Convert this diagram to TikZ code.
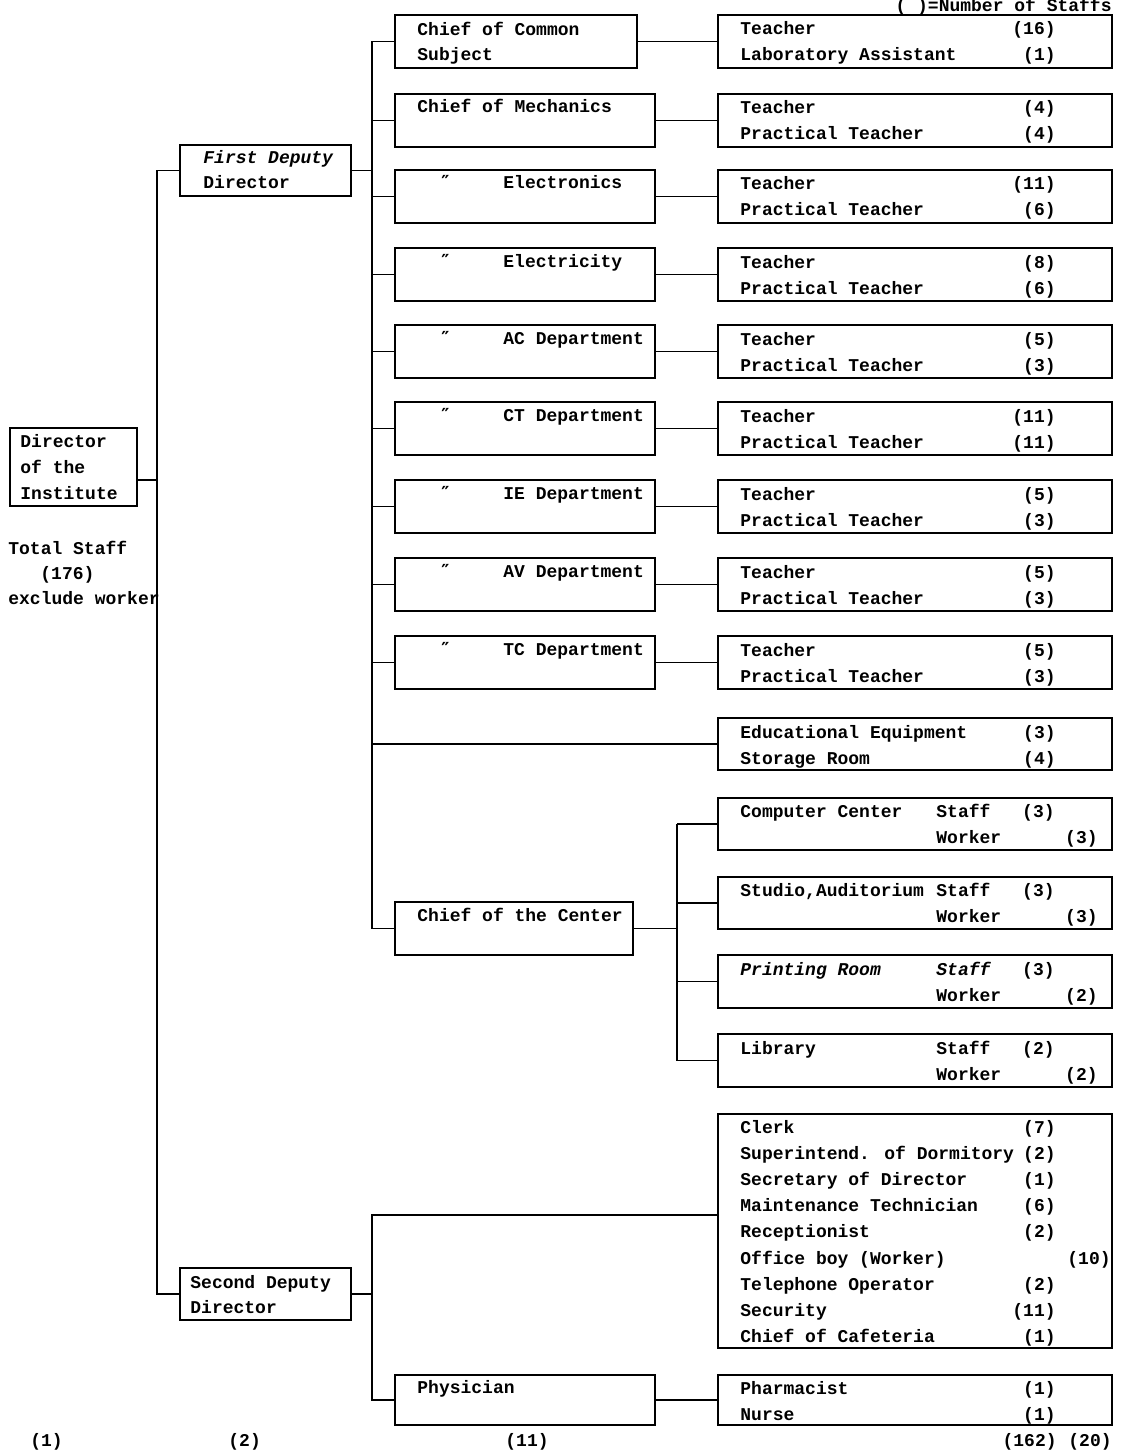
\documentclass[tikz,border=0pt]{standalone}
\usepackage{fontspec}
\setmainfont{Liberation Mono}
\newfontfamily\dvfont{DejaVu Sans}
\newcommand\fs{\fontsize{9}{11}\selectfont\bfseries}
\newcommand\bx[5]{\node[box, minimum width={(#4-(#2))*0.5pt}, minimum height={(#5-(#3))*0.5pt}] (#1) at (#2,#3) {};}
\newcommand\dept[5]{%
 \bx{m#1}{395}{#2}{655}{#2+53}
 \bx{r#1}{718}{#2}{1112}{#2+53}
 \draw[ln] (m#1.east) -- (r#1.west);
 \draw[ln] (fv |- m#1.west) -- (m#1.west);
 \node[tl] (ra#1) at (740,#2+20) {Teacher};
 \node[tl] (rb#1) at (740,#2+46) {Practical Teacher};
 \node[tr] (na#1) at (1056,#2+20) {(#4)};
 \node[tr] (nb#1) at (1056,#2+46) {(#5)};
 \ifx\relax#3\relax
 \else
 \node[tl] (dt#1) at (441,#2+19) {\dvfont\char"2033};
 \node[tl] (mt#1) at (503,#2+19) {#3};
 \fi
}
\begin{document}
\begin{tikzpicture}[x=0.5pt,y=-0.5pt,
  box/.style={draw, line width=0.9pt, inner sep=0pt, outer sep=0pt, anchor=north west},
  ln/.style={line width=0.9pt},
  tl/.style={anchor=base west, inner sep=0pt, font=\fs},
  tr/.style={anchor=base east, inner sep=0pt, font=\fs}]
\useasboundingbox (0,0) rectangle (1125,1455);
\fill[white] (0,0) rectangle (1125,1455);

% legend
\node[tr] (legend) at (1112,12) {( )=Number of Staffs};

% Director
\bx{dir}{10}{428}{137}{506}
\node[tl] (dirt1) at (20,447) {Director};
\node[tl] (dirt2) at (20,473) {of the};
\node[tl] (dirt3) at (20,499) {Institute};
\node[tl] (tot1) at (8,554) {Total Staff};
\node[tl] (tot2) at (40,579) {(176)};
\node[tl] (tot3) at (8,604) {exclude worker};
\coordinate (dj) at (157,480);

% Deputies
\bx{fd}{180}{145}{351}{196}
\node[tl] (fdt1) at (203,164) {\itshape First Deputy};
\node[tl] (fdt2) at (203,189) {Director};
\bx{sd}{180}{1268}{351}{1320}
\node[tl] (sdt1) at (190,1288) {Second Deputy};
\node[tl] (sdt2) at (190,1313) {Director};
\draw[ln] (dir.east |- dj) -- (dj);
\draw[ln] (fd.west) -- (fd.west -| dj) -- (sd.west -| dj) -- (sd.west);

% First deputy branch
\coordinate (fv) at (372,0);
\bx{mcom}{395}{15}{637}{68}
\bx{rcom}{718}{15}{1112}{68}
\node[tl] (mcomt1) at (417,36) {Chief of Common};
\node[tl] (mcomt2) at (417,61) {Subject};
\node[tl] (racom) at (740,35) {Teacher};
\node[tl] (rbcom) at (740,61) {Laboratory Assistant};
\node[tr] (nacom) at (1056,35) {(16)};
\node[tr] (nbcom) at (1056,61) {(1)};
\draw[ln] (mcom.east) -- (rcom.west);
\draw[ln] (fv |- mcom.west) -- (mcom.west);

\dept{mech}{94}{}{4}{4}
\node[tl] (mtmech) at (417,113) {Chief of Mechanics};
\dept{elec}{170}{Electronics}{11}{6}
\dept{elty}{248}{Electricity}{8}{6}
\dept{ac}{325}{AC Department}{5}{3}
\dept{ct}{402}{CT Department}{11}{11}
\dept{ie}{480}{IE Department}{5}{3}
\dept{av}{558}{AV Department}{5}{3}
\dept{tc}{636}{TC Department}{5}{3}

\bx{sto}{718}{718}{1112}{770}
\node[tl] (stot1) at (740,738) {Educational Equipment};
\node[tl] (stot2) at (740,764) {Storage Room};
\node[tr] (ston1) at (1056,738) {(3)};
\node[tr] (ston2) at (1056,764) {(4)};
\draw[ln] (fv |- sto.west) -- (sto.west);

% Center
\bx{cen}{395}{902}{633}{955}
\node[tl] (cent) at (417,921) {Chief of the Center};
\draw[ln] (fv |- cen.west) -- (cen.west);
\draw[ln] (fv |- mcom.west) -- (fv |- cen.west);
\draw[ln] (fd.east) -- (fv |- fd.east);
\coordinate (cv) at (677,0);
\bx{cc}{718}{798}{1112}{850}
\bx{st}{718}{877}{1112}{929}
\bx{pr}{718}{955}{1112}{1008}
\bx{lib}{718}{1034}{1112}{1087}
\draw[ln] (cen.east) -- (cv |- cen.east);
\draw[ln] (cv |- cc.west) -- (cv |- lib.west);
\foreach \b in {cc,st,pr,lib}{\draw[ln] (cv |- \b.west) -- (\b.west);}
\node[tl] (cct) at (740,817) {Computer Center};
\node[tl] (sttx) at (740,896) {Studio,Auditorium};
\node[tl] (prt) at (740,975) {\itshape Printing Room};
\node[tl] (libt) at (740,1054) {Library};
\node[tl] (ccs) at (936,817) {Staff};
\node[tl] (sts) at (936,896) {Staff};
\node[tl] (prs) at (936,975) {\itshape Staff};
\node[tl] (libs) at (936,1054) {Staff};
\node[tl] (ccw) at (936,843) {Worker};
\node[tl] (stw) at (936,922) {Worker};
\node[tl] (prw) at (936,1001) {Worker};
\node[tl] (libw) at (936,1080) {Worker};
\node[tr] (ccn1) at (1055,817) {(3)};
\node[tr] (stn1) at (1055,896) {(3)};
\node[tr] (prn1) at (1055,975) {(3)};
\node[tr] (libn1) at (1055,1054) {(2)};
\node[tr] (ccn2) at (1098,843) {(3)};
\node[tr] (stn2) at (1098,922) {(3)};
\node[tr] (prn2) at (1098,1001) {(2)};
\node[tr] (libn2) at (1098,1080) {(2)};

% Second deputy branch
\coordinate (sv) at (372,0);
\coordinate (sj) at (372,1215);
\bx{clk}{718}{1114}{1112}{1348}
\bx{phy}{395}{1375}{655}{1425}
\bx{ph}{718}{1375}{1112}{1425}
\draw[ln] (sd.east) -- (sv |- sd.east);
\draw[ln] (clk.west |- sj) -- (sj) -- (sv |- phy.west) -- (phy.west);
\draw[ln] (phy.east) -- (ph.west);
\node[tl] (phyt) at (417,1393) {Physician};
\node[tl] (pht1) at (740,1394) {Pharmacist};
\node[tl] (pht2) at (740,1420) {Nurse};
\node[tr] (phn1) at (1056,1394) {(1)};
\node[tr] (phn2) at (1056,1420) {(1)};

\foreach \t/\n [count=\i from 0] in {Clerk/(7), Superintend. of Dormitory/(2), Secretary of Director/(1), Maintenance Technician/(6), Receptionist/(2), Office boy (Worker)/, Telephone Operator/(2), Security/(11), Chief of Cafeteria/(1)}{
  \node[tl] (ck\i) at (740,1133+\i*26.2) {\t};
  \node[tr] (ckn\i) at (1056,1133+\i*26.2) {\n};
}
\node[tr] (ckoff) at (1111,1264) {(10)};

% bottom totals
\node[tl] (b1) at (30,1446) {(1)};
\node[tl] (b2) at (228,1446) {(2)};
\node[tl] (b3) at (505,1446) {(11)};
\node[tr] (b4) at (1057,1446) {(162)};
\node[tr] (b5) at (1112,1446) {(20)};
\end{tikzpicture}
\end{document}
